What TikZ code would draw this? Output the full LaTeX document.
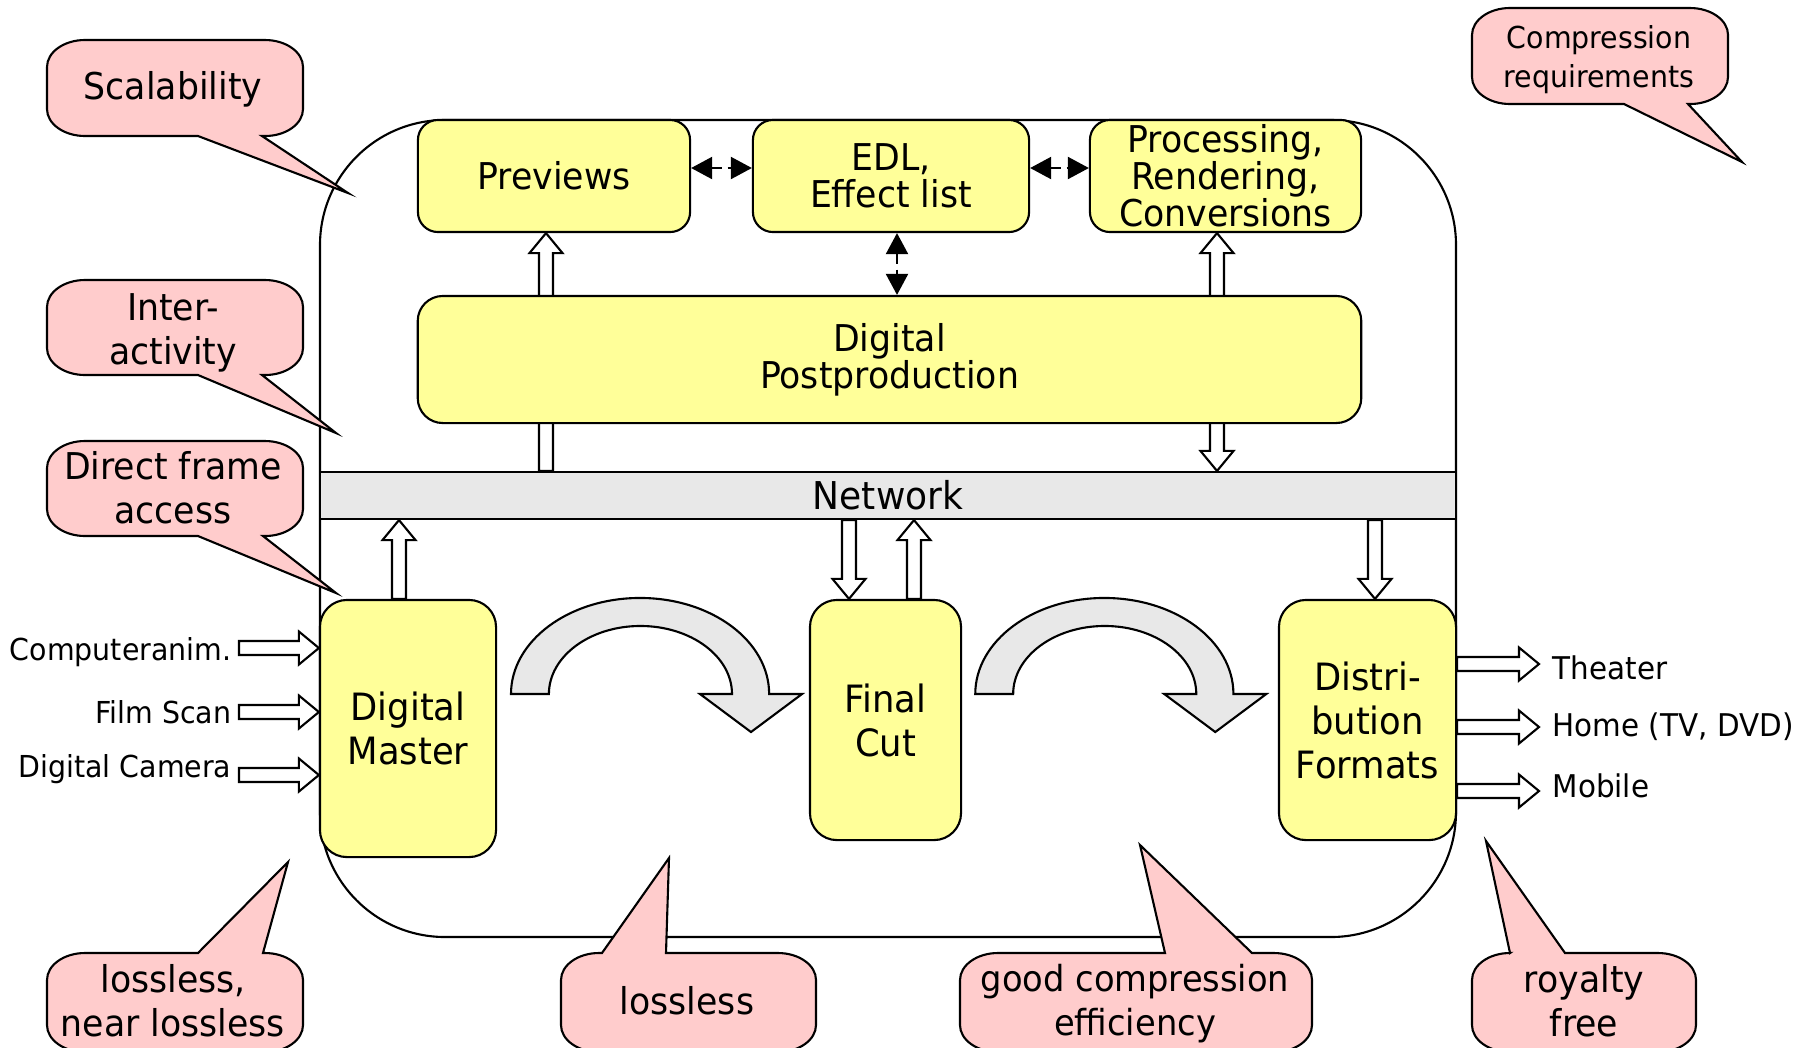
\documentclass[tikz,border=0pt]{standalone}
\usepackage{fontspec}
\setmainfont{DejaVu Sans}[FakeStretch=0.94]
\usetikzlibrary{calc,arrows.meta}

\definecolor{boxyellow}{HTML}{FFFF99}
\definecolor{notepink}{HTML}{FFCCCC}
\definecolor{bargray}{HTML}{E8E8E8}

% block arrow geometry: half shaft width, half head width, head length
\newcommand\arrsw{0.07cm}
\newcommand\arrhw{0.165cm}
\newcommand\arrhl{0.2cm}

% hollow block arrow from #1 to #2
\newcommand\hollowarrow[2]{%
  \coordinate (hab) at ($(#2)!\arrhl!(#1)$);
  \draw[blockarrow] ($(#1)!\arrsw!90:(#2)$) -- ($(hab)!\arrsw!90:(#2)$)
    -- ($(hab)!\arrhw!90:(#2)$) -- (#2) -- ($(hab)!\arrhw!-90:(#2)$)
    -- ($(hab)!\arrsw!-90:(#2)$) -- ($(#1)!\arrsw!-90:(#2)$) -- cycle;}

% hollow block arrow with a head at both ends
\newcommand\hollowdouble[2]{%
  \coordinate (hda) at ($(#1)!\arrhl!(#2)$);
  \coordinate (hdb) at ($(#2)!\arrhl!(#1)$);
  \draw[blockarrow] (#1) -- ($(hda)!\arrhw!90:(#2)$) -- ($(hda)!\arrsw!90:(#2)$)
    -- ($(hdb)!\arrsw!90:(#2)$) -- ($(hdb)!\arrhw!90:(#2)$) -- (#2)
    -- ($(hdb)!\arrhw!-90:(#2)$) -- ($(hdb)!\arrsw!-90:(#2)$)
    -- ($(hda)!\arrsw!-90:(#2)$) -- ($(hda)!\arrhw!-90:(#2)$) -- cycle;}

% speech balloon, tail on the bottom edge: x1, ytop, x2, ybottom, tail base a, b, tip x, y
\newcommand\notedown[8]{%
  \draw[callout] (#1,-#2-27) arc[start angle=180,end angle=90,x radius=0.38cm,y radius=0.27cm]
    -- (#3-38,-#2) arc[start angle=90,end angle=0,x radius=0.38cm,y radius=0.27cm]
    -- (#3,-#4+27) arc[start angle=0,end angle=-90,x radius=0.38cm,y radius=0.27cm]
    -- (#6,-#4) -- (#7,-#8) -- (#5,-#4)
    -- (#1+38,-#4) arc[start angle=270,end angle=180,x radius=0.38cm,y radius=0.27cm] -- cycle;}

% speech balloon, tail on the top edge
\newcommand\noteup[8]{%
  \draw[callout] (#1,-#2-27) arc[start angle=180,end angle=90,x radius=0.38cm,y radius=0.27cm]
    -- (#5,-#2) -- (#7,-#8) -- (#6,-#2)
    -- (#3-38,-#2) arc[start angle=90,end angle=0,x radius=0.38cm,y radius=0.27cm]
    -- (#3,-#4+27) arc[start angle=0,end angle=-90,x radius=0.38cm,y radius=0.27cm]
    -- (#1+38,-#4) arc[start angle=270,end angle=180,x radius=0.38cm,y radius=0.27cm] -- cycle;}

\tikzset{
  every node/.style={inner sep=0pt},
  ybox/.style={draw, fill=boxyellow, line width=0.6pt, align=center},
  topfont/.style={font=\fontsize{10.5}{10.5}\selectfont},
  lowfont/.style={font=\fontsize{10.7}{12.5}\selectfont},
  notetext/.style={align=center, font=\fontsize{10.5}{12.5}\selectfont},
  leftlabel/.style={font=\fontsize{8.6}{10}\selectfont, anchor=east},
  rightlabel/.style={font=\fontsize{8.9}{10}\selectfont, anchor=west},
  blockarrow/.style={draw, fill=white, line width=0.6pt, line join=miter},
  callout/.style={draw, fill=notepink, line width=0.6pt},
  frame/.style={draw, line width=0.6pt, rounded corners=1.25cm},
  netbar/.style={draw, fill=bargray, line width=0.6pt},
  turnarrow/.style={draw, fill=bargray, line width=0.6pt, line join=miter},
  dashlink/.style={line width=0.6pt, dash pattern=on 0.1cm off 0.06cm,
    {Triangle[length=0.21cm,width=0.22cm]}-{Triangle[length=0.21cm,width=0.22cm]}}
}

\begin{document}
\begin{tikzpicture}[x=0.01cm, y=0.01cm]
\fill[white] (0,0) rectangle (1809,-1047);
\useasboundingbox (0,0) rectangle (1809,-1047);

% system frame
\draw[frame] (320,-120) rectangle (1456,-937);

% network bus
\node[netbar, font=\fontsize{10.9}{11}\selectfont, minimum width=11.36cm, minimum height=0.47cm] (net) at (888,-495.5) {Network};

% upper row
\node[ybox, topfont, rounded corners=0.2cm, minimum width=2.72cm, minimum height=1.12cm] (prev) at (554,-176) {Previews};
\node[ybox, topfont, rounded corners=0.2cm, minimum width=2.76cm, minimum height=1.12cm] (edl) at (891,-176) {EDL,\\Effect list};
\node[ybox, topfont, rounded corners=0.2cm, minimum width=2.71cm, minimum height=1.12cm] (proc) at (1225.5,-176) {Processing,\\Rendering,\\Conversions};

% x positions of the vertical block arrows
\coordinate (xa) at (546,0);
\coordinate (xb) at (1217,0);
\coordinate (xc) at (399,0);
\coordinate (xd) at (849,0);
\coordinate (xe) at (914,0);
\coordinate (xf) at (1375,0);

\coordinate (a1) at (xa |- net.north);
\coordinate (a2) at (xa |- prev.south);
\hollowarrow{a1}{a2}
\coordinate (b1) at (xb |- net.north);
\coordinate (b2) at (xb |- proc.south);
\hollowdouble{b1}{b2}

\node[ybox, topfont, rounded corners=0.25cm, minimum width=9.43cm, minimum height=1.27cm] (post) at (889.5,-359.5) {Digital\\Postproduction};

% dashed links between the editing steps
\draw[dashlink] ($(prev.east)+(0,8)$) -- ($(edl.west)+(0,8)$);
\draw[dashlink] ($(edl.east)+(0,8)$) -- ($(proc.west)+(0,8)$);
\draw[dashlink] ($(edl.south)+(6,0)$) -- ($(post.north -| edl.south)+(6,0)$);

% lower row
\node[ybox, lowfont, rounded corners=0.27cm, minimum width=1.76cm, minimum height=2.57cm] (dm) at (408,-728.5) {Digital\\Master};
\node[ybox, lowfont, rounded corners=0.27cm, minimum width=1.51cm, minimum height=2.40cm] (fc) at (885.5,-720) {Final\\Cut};
\node[ybox, lowfont, rounded corners=0.27cm, minimum width=1.77cm, minimum height=2.40cm] (dist) at (1367.5,-720) {Distri-\\bution\\Formats};

\coordinate (c1) at (xc |- dm.north);
\coordinate (c2) at (xc |- net.south);
\hollowarrow{c1}{c2}
\coordinate (d1) at (xd |- net.south);
\coordinate (d2) at (xd |- fc.north);
\hollowarrow{d1}{d2}
\coordinate (e1) at (xe |- fc.north);
\coordinate (e2) at (xe |- net.south);
\hollowarrow{e1}{e2}
\coordinate (f1) at (xf |- net.south);
\coordinate (f2) at (xf |- dist.north);
\hollowarrow{f1}{f2}

% curved transfer arrows
\draw[turnarrow] (511,-694) arc[start angle=180,end angle=0,x radius=1.29cm,y radius=0.96cm]
  -- (802,-694) -- (751,-732) -- (700,-694) -- (732,-694)
  arc[start angle=0,end angle=180,x radius=0.915cm,y radius=0.68cm] -- cycle;
\begin{scope}[xshift=4.64cm]
\draw[turnarrow] (511,-694) arc[start angle=180,end angle=0,x radius=1.29cm,y radius=0.96cm]
  -- (802,-694) -- (751,-732) -- (700,-694) -- (732,-694)
  arc[start angle=0,end angle=180,x radius=0.915cm,y radius=0.68cm] -- cycle;
\end{scope}

% sources
\coordinate (l1) at (239,-648);
\coordinate (l2) at (239,-712);
\coordinate (l3) at (239,-775);
\node[leftlabel] (in1) at ($(l1)+(-7,-4)$) {Computeranim.};
\node[leftlabel] (in2) at ($(l2)+(-7,0)$) {Film Scan};
\node[leftlabel] (in3) at ($(l3)+(-7,6)$) {Digital Camera};
\coordinate (l1t) at (l1 -| dm.west);
\coordinate (l2t) at (l2 -| dm.west);
\coordinate (l3t) at (l3 -| dm.west);
\hollowarrow{l1}{l1t}
\hollowarrow{l2}{l2t}
\hollowarrow{l3}{l3t}

% outlets
\coordinate (r1) at (1539,-664);
\coordinate (r2) at (1539,-727);
\coordinate (r3) at (1539,-791);
\node[rightlabel] (out1) at ($(r1)+(13,-4)$) {Theater};
\node[rightlabel] (out2) at ($(r2)+(13,0)$) {Home (TV, DVD)};
\node[rightlabel] (out3) at ($(r3)+(13,5)$) {Mobile};
\coordinate (r1s) at (r1 -| dist.east);
\coordinate (r2s) at (r2 -| dist.east);
\coordinate (r3s) at (r3 -| dist.east);
\hollowarrow{r1s}{r1}
\hollowarrow{r2s}{r2}
\hollowarrow{r3s}{r3}

% requirement balloons
\notedown{47}{40}{303}{136}{198}{262}{348}{193}
\node[notetext] (n1) at (173,-89) {Scalability};
\notedown{47}{280}{303}{375}{198}{262}{336}{433}
\node[notetext] (n2) at (173,-333) {Inter-\\activity};
\notedown{47}{441}{303}{536}{198}{263}{336}{593}
\node[notetext] (n3) at (173,-488) {Direct frame\\access};
\notedown{1472}{8}{1728}{104}{1624}{1688}{1742}{162}
\node[notetext, font=\fontsize{8.6}{11.1}\selectfont] (n4) at (1599,-60) {Compression\\requirements};
\noteup{47}{953}{303}{1052}{198}{263}{288}{862}
\node[notetext] (n5) at (173,-1001) {lossless,\\near lossless};
\noteup{561}{953}{816}{1052}{602}{666}{669}{858}
\node[notetext] (n6) at (687,-1001) {lossless};
\noteup{960}{953}{1312}{1052}{1165}{1252}{1140}{845}
\node[notetext, font=\fontsize{10.2}{12.5}\selectfont] (n7) at (1135,-1004) {good compression\\efficiency};
\noteup{1472}{953}{1696}{1052}{1510}{1565}{1486}{841}
\node[notetext] (n8) at (1584,-1001) {royalty\\free};
\end{tikzpicture}
\end{document}
